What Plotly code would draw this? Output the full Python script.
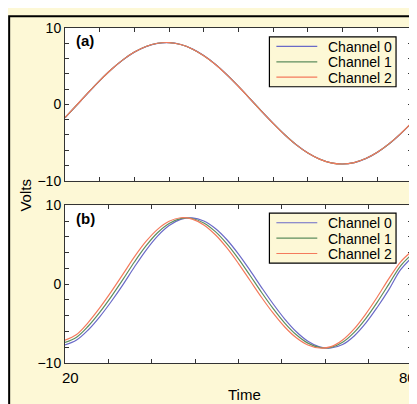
import plotly.graph_objects as go

# ---------------- data ----------------
time = [20, 22, 24, 26, 28, 30, 32, 34, 36, 38, 40, 42, 44, 46, 48, 50,
        52, 54, 56, 58, 60, 62, 64, 66, 68, 70, 72, 74, 76, 78, 80]

# panel (a): the three channels overlap almost exactly
a_ch0 = [-1.75, -0.12, 1.52, 3.10, 4.56, 5.82, 6.84, 7.57, 7.99, 8.08, 7.84, 7.27, 6.39, 5.25,
         3.88, 2.36, 0.74, -0.90, -2.48, -3.97, -5.29, -6.36, -7.15, -7.64, -7.80, -7.62,
         -7.10, -6.28, -5.19, -3.87, -2.38]
a_ch1 = [-1.73, -0.11, 1.53, 3.11, 4.57, 5.83, 6.85, 7.58, 8.00, 8.09, 7.84, 7.26, 6.38, 5.24,
         3.87, 2.35, 0.73, -0.91, -2.49, -3.98, -5.30, -6.37, -7.16, -7.65, -7.80, -7.61,
         -7.09, -6.27, -5.18, -3.86, -2.36]
a_ch2 = [-1.72, -0.10, 1.54, 3.12, 4.57, 5.83, 6.85, 7.58, 8.00, 8.09, 7.84, 7.26, 6.37, 5.23,
         3.86, 2.34, 0.72, -0.92, -2.50, -3.99, -5.30, -6.37, -7.16, -7.65, -7.80, -7.61,
         -7.09, -6.27, -5.17, -3.85, -2.35]

# panel (b): channels slightly shifted in phase
b_ch0 = [-7.70, -7.08, -5.81, -4.14, -2.20, -0.09, 2.17, 4.29, 6.09, 7.43, 8.22, 8.41, 8.01, 7.06,
         5.63, 3.81, 1.74, -0.43, -2.52, -4.43, -6.04, -7.24, -7.95, -8.10, -7.66, -6.57,
         -4.95, -2.93, -0.70, 1.80, 3.40]
b_ch1 = [-7.40, -6.73, -5.34, -3.58, -1.58, 0.57, 2.81, 4.85, 6.52, 7.70, 8.32, 8.33, 7.76, 6.66,
         5.11, 3.21, 1.10, -1.06, -3.10, -4.93, -6.42, -7.48, -8.03, -8.02, -7.37, -6.12,
         -4.37, -2.28, 0.00, 2.30, 3.80]
b_ch2 = [-7.10, -6.38, -4.87, -3.02, -0.96, 1.23, 3.45, 5.41, 6.95, 7.97, 8.42, 8.25, 7.51, 6.26,
         4.59, 2.61, 0.46, -1.69, -3.68, -5.43, -6.80, -7.72, -8.10, -7.92, -7.08, -5.67,
         -3.79, -1.63, 0.70, 2.80, 4.20]

channel_names = ["Channel 0", "Channel 1", "Channel 2"]
channel_colors = ["#6a6ac8", "#5e8e5e", "#f47a5c"]

y_tickvals = [-10, -8, -6, -4, -2, 0, 2, 4, 6, 8, 10]
y_ticktext = ["\u221210", "", "", "", "", "0", "", "", "", "", "10"]
xa_tickvals = [20, 26, 32, 38, 44, 50, 56, 62, 68, 74, 80]
xb_tickvals = [20, 27.5, 35, 42.5, 50, 57.5, 65, 72.5, 80]
x_labels = ["20", "80"]

# ---------------- figure ----------------
# the page body adds an 8px offset; positions below are given in page pixels
OFF = 8
W, H = 417, 404
ML, MR, MT, MB = 57, 12, 13, 49
pw = W - ML - MR
ph = H - MT - MB


def px_x(p):
    return (p - OFF - ML) / pw


def px_y(p):
    return (H - MB - (p - OFF)) / ph


cream = "#fdf8d6"
font_family = "Liberation Sans, Arial, sans-serif"

fig = go.Figure()
for name, col, ys in zip(channel_names, channel_colors, [a_ch0, a_ch1, a_ch2]):
    fig.add_trace(go.Scatter(x=time, y=ys, mode="lines", name=name, showlegend=False,
                             line=dict(color=col, width=1.2, shape="spline"),
                             xaxis="x", yaxis="y"))
for name, col, ys in zip(channel_names, channel_colors, [b_ch0, b_ch1, b_ch2]):
    fig.add_trace(go.Scatter(x=time, y=ys, mode="lines", name=name, showlegend=False,
                             line=dict(color=col, width=1.2, shape="spline"),
                             xaxis="x2", yaxis="y2"))

top_lo = px_y(177)
bot_hi = px_y(202)

axis_common = dict(showline=True, linecolor="#333333", linewidth=1, mirror="allticks",
                   ticks="inside", ticklen=4, tickcolor="#333333", showgrid=False,
                   zeroline=False, tickfont=dict(size=14, color="black", family=font_family))

shapes = [
    dict(type="rect", xref="paper", yref="paper", layer="below",
         x0=px_x(9), x1=px_x(W + 20), y0=px_y(H + 20), y1=px_y(9),
         fillcolor=cream, line=dict(color="black", width=2)),
    dict(type="rect", xref="x domain", yref="y domain", layer="below",
         x0=0, x1=1, y0=0, y1=1, fillcolor="white", line=dict(width=0)),
    dict(type="rect", xref="x2 domain", yref="y2 domain", layer="below",
         x0=0, x1=1, y0=0, y1=1, fillcolor="white", line=dict(width=0)),
]
annotations = [
    dict(text="<b>(a)</b>", xref="paper", yref="paper", x=px_x(74), y=px_y(34),
         xanchor="left", yanchor="middle", showarrow=False, font=dict(size=15)),
    dict(text="<b>(b)</b>", xref="paper", yref="paper", x=px_x(74), y=px_y(215),
         xanchor="left", yanchor="middle", showarrow=False, font=dict(size=15)),
    dict(text="Volts", xref="paper", yref="paper", x=px_x(25), y=px_y(192),
         xanchor="center", yanchor="middle", textangle=-90, showarrow=False,
         font=dict(size=15)),
    dict(text="Time", xref="paper", yref="paper", x=px_x(245), y=px_y(395),
         xanchor="center", yanchor="middle", showarrow=False, font=dict(size=15)),
    dict(text=x_labels[0], xref="x2", yref="paper", x=20, y=px_y(378), xshift=5,
         xanchor="center", yanchor="middle", showarrow=False, font=dict(size=15)),
    dict(text=x_labels[1], xref="x2", yref="paper", x=80, y=px_y(378), xshift=-5,
         xanchor="center", yanchor="middle", showarrow=False, font=dict(size=15)),
]

# hand-built legends (page-pixel boxes)
for box_top in (30, 210):
    shapes.append(dict(type="rect", xref="paper", yref="paper",
                       x0=px_x(270), x1=px_x(397), y0=px_y(box_top + 51), y1=px_y(box_top),
                       fillcolor=cream, line=dict(color="black", width=1.2)))
    for i, (name, col) in enumerate(zip(channel_names, channel_colors)):
        yy = box_top + 9.8 + 15.7 * i
        shapes.append(dict(type="line", xref="paper", yref="paper",
                           x0=px_x(277), x1=px_x(318), y0=px_y(yy), y1=px_y(yy),
                           line=dict(color=col, width=1.2)))
        annotations.append(dict(text=name, xref="paper", yref="paper", x=px_x(394),
                                y=px_y(yy), xanchor="right", yanchor="middle",
                                height=13, borderpad=0,
                                showarrow=False, font=dict(size=14)))

fig.update_layout(
    width=W, height=H,
    margin=dict(l=ML, r=MR, t=MT, b=MB),
    paper_bgcolor=cream, plot_bgcolor="white",
    font=dict(family=font_family, color="black"),
    showlegend=False,
    xaxis=dict(domain=[0, 1], range=[20, 80], anchor="y", tickmode="array",
               tickvals=xa_tickvals, showticklabels=False, **axis_common),
    yaxis=dict(domain=[top_lo, 1], range=[-10, 10], anchor="x", tickmode="array",
               tickvals=y_tickvals, ticktext=y_ticktext, **axis_common),
    xaxis2=dict(domain=[0, 1], range=[20, 80], anchor="y2", tickmode="array",
                tickvals=xb_tickvals, showticklabels=False, **axis_common),
    yaxis2=dict(domain=[0, bot_hi], range=[-10, 10], anchor="x2", tickmode="array",
                tickvals=y_tickvals, ticktext=y_ticktext, **axis_common),
    shapes=shapes,
    annotations=annotations,
)

fig.write_html("out.html")
